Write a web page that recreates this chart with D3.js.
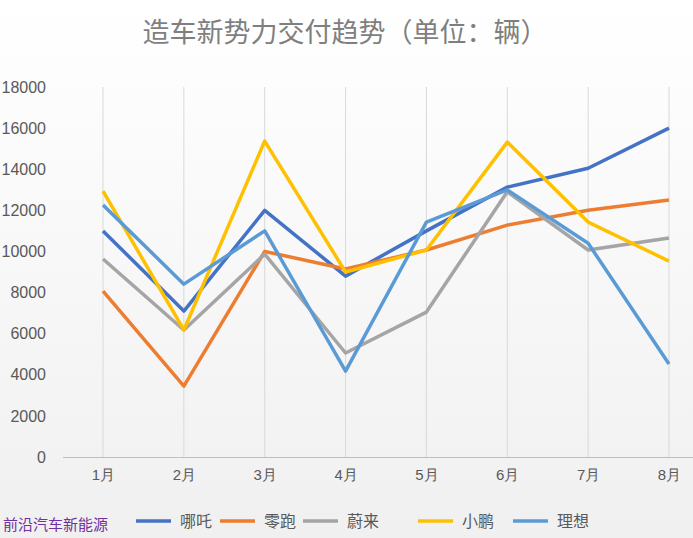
<!DOCTYPE html>
<html><head><meta charset="utf-8">
<script src="https://cdn.jsdelivr.net/npm/d3@7"></script>
<style>body{margin:0}svg{display:block;font-family:"Noto Sans CJK SC","Noto Sans",sans-serif}</style>
</head><body><svg id="c" width="693" height="538"></svg>
<script>
const months=["1月","2月","3月","4月","5月","6月","7月","8月"];
const yTicks=[0,2000,4000,6000,8000,10000,12000,14000,16000,18000];
const seriesNames=["哪吒","零跑","蔚来","小鹏","理想"];
const nezha=[11000,7100,12000,8800,11000,13130,14050,16000];
const leap=[8070,3450,10000,9150,10070,11280,12000,12500];
const nio=[9630,6180,9870,5060,7050,12900,10070,10650];
const xpeng=[12940,6180,15370,9000,10070,15320,11430,9530];
const lixiang=[12260,8410,11000,4180,11430,12990,10400,4520];
const colors=["#4472c4","#ed7d31","#a5a5a5","#ffc000","#5b9bd5"];
const data=[nezha,leap,nio,xpeng,lixiang];

const svg=d3.select("#c");
const defs=svg.append("defs");
const g=defs.append("linearGradient").attr("id","bg").attr("x1",0).attr("y1",0).attr("x2",0).attr("y2",1);
g.append("stop").attr("offset","0").attr("stop-color","#ffffff");
g.append("stop").attr("offset","1").attr("stop-color","#f0f0f0");
svg.append("rect").attr("width",693).attr("height",538).attr("fill","url(#bg)");

const x=d3.scalePoint().domain(months).range([103,669]);
const y=d3.scaleLinear().domain([0,18000]).range([457,87]);

svg.append("text").attr("x",345).attr("y",42).attr("text-anchor","middle")
 .attr("font-size",27).attr("fill","#7f7f7f").text("造车新势力交付趋势（单位：辆）");

svg.append("g").selectAll("line").data(months).join("line")
 .attr("x1",d=>x(d)).attr("x2",d=>x(d)).attr("y1",y(18000)).attr("y2",457)
 .attr("stroke","#d9d9d9").attr("stroke-width",1);
svg.append("line").attr("x1",63).attr("x2",693).attr("y1",457.5).attr("y2",457.5).attr("stroke","#bfbfbf");

const ya=svg.append("g").attr("transform","translate(46,0)")
 .call(d3.axisLeft(y).tickValues(yTicks).tickSize(0).tickPadding(0).tickFormat(d3.format("d")));
ya.select(".domain").remove();
ya.selectAll("text").attr("font-size",16).attr("fill","#595959").attr("font-family","Liberation Sans,sans-serif");

const xa=svg.append("g").attr("transform","translate(0,457)")
 .call(d3.axisBottom(x).tickSize(0).tickPadding(12));
xa.select(".domain").remove();
xa.selectAll("text").attr("font-size",15).attr("fill","#595959");

const line=d3.line().x((d,i)=>x(months[i])).y(d=>y(d));
data.forEach((s,i)=>{
 svg.append("path").datum(s).attr("d",line).attr("fill","none")
  .attr("stroke",colors[i]).attr("stroke-width",3.5).attr("stroke-linejoin","round");
});

const lx=[136,220,303,418,513];
seriesNames.forEach((n,i)=>{
 svg.append("line").attr("x1",lx[i]).attr("x2",lx[i]+35).attr("y1",521).attr("y2",521)
  .attr("stroke",colors[i]).attr("stroke-width",3.5);
 svg.append("text").attr("x",lx[i]+44).attr("y",527).attr("font-size",16).attr("fill","#595959").text(n);
});
svg.append("text").attr("x",3).attr("y",530).attr("font-size",15).attr("fill","#7030a0").text("前沿汽车新能源");
</script></body></html>
